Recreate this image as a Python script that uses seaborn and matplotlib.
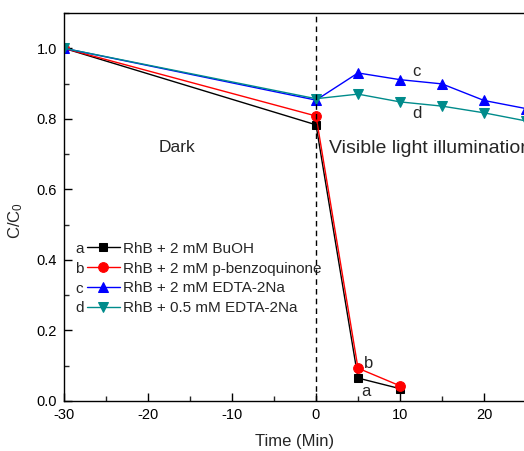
import matplotlib
matplotlib.use("Agg")
import matplotlib.pyplot as plt
from matplotlib.ticker import MultipleLocator, FixedLocator
import seaborn as sns
import pandas as pd

# Sampling times (min) and normalised concentration C/C0
time_ab = [-30, 0, 5, 10]
time_cd = [-30, 0, 5, 10, 15, 20, 25]
buoh = [1.0, 0.783, 0.065, 0.035]
benzoquinone = [1.0, 0.808, 0.093, 0.043]
edta_2mm = [1.0, 0.853, 0.930, 0.911, 0.899, 0.852, 0.829]
edta_05mm = [1.0, 0.857, 0.870, 0.848, 0.836, 0.817, 0.794]

labels = ["RhB + 2 mM BuOH", "RhB + 2 mM p-benzoquinone",
          "RhB + 2 mM EDTA-2Na", "RhB + 0.5 mM EDTA-2Na"]
letters = ["a", "b", "c", "d"]
xticks = [-30, -20, -10, 0, 10, 20]
colors = ["black", "red", "blue", "#008B8B"]
markers = ["s", "o", "^", "v"]
msizes = [5.5, 7, 7.5, 7.5]

sns.set_theme(style="ticks")
plt.rcParams["font.family"] = ["Liberation Sans", "DejaVu Sans"]
plt.rcParams["axes.unicode_minus"] = False
plt.rcParams["mathtext.fontset"] = "custom"
plt.rcParams["mathtext.rm"] = "Liberation Sans"
plt.rcParams["mathtext.it"] = "Liberation Sans"

fig = plt.figure(figsize=(5.24, 4.51), dpi=100)
ax = fig.add_axes([64 / 524, 50 / 451, 504 / 524, 388 / 451])

series = [(time_ab, buoh), (time_ab, benzoquinone),
          (time_cd, edta_2mm), (time_cd, edta_05mm)]
for (t, v), lab, c, m, ms in zip(series, labels, colors, markers, msizes):
    df = pd.DataFrame({"t": t, "v": v})
    sns.lineplot(data=df, x="t", y="v", ax=ax, color=c, marker=m,
                 markersize=ms, markeredgecolor=c, linewidth=1.0,
                 label=lab)

ax.axvline(0, color="black", linestyle=(0, (4, 3)), linewidth=1.0)

ax.set_xlim(-30, 30)
ax.set_ylim(0, 1.1)
ax.xaxis.set_major_locator(FixedLocator(xticks))
ax.xaxis.set_minor_locator(MultipleLocator(5))
ax.yaxis.set_major_locator(MultipleLocator(0.2))
ax.yaxis.set_minor_locator(MultipleLocator(0.1))
ax.yaxis.set_major_formatter(plt.FormatStrFormatter("%.1f"))
ax.tick_params(which="major", direction="in", length=6, width=1,
               labelsize=10.5, colors="black", pad=5)
ax.tick_params(which="minor", direction="in", length=3.5, width=1)
for s in ax.spines.values():
    s.set_linewidth(1.0)
    s.set_color("black")

ax.set_xlabel("Time (Min)", fontsize=12)
ax.xaxis.set_label_coords(231 / 504, -33 / 388)
ax.set_ylabel("C/C$_0$", fontsize=12)
ax.yaxis.set_label_coords(-39 / 504, 180 / 388)

ax.text(-16.6, 0.72, "Dark", fontsize=12.5, ha="center", va="center")
ax.text(1.5, 0.715, "Visible light illumination", fontsize=14,
        ha="left", va="center")

# curve letters
ax.text(12, 0.935, "c", fontsize=12, ha="center", va="center")
ax.text(12, 0.815, "d", fontsize=12, ha="center", va="center")
ax.text(6.2, 0.105, "b", fontsize=12, ha="center", va="center")
ax.text(6.0, 0.026, "a", fontsize=12, ha="center", va="center")

leg = ax.legend(loc="center left", bbox_to_anchor=(23 / 504, 122.5 / 388),
                frameon=False, fontsize=11, handlelength=2.15,
                handletextpad=0.2, labelspacing=0.38, borderpad=0,
                borderaxespad=0)
for i, letter in enumerate(letters):
    ax.text(-28.7, 0.43 - i * 0.0557, letter, fontsize=11,
            ha="left", va="center")

fig.savefig("out.png", dpi=100)
